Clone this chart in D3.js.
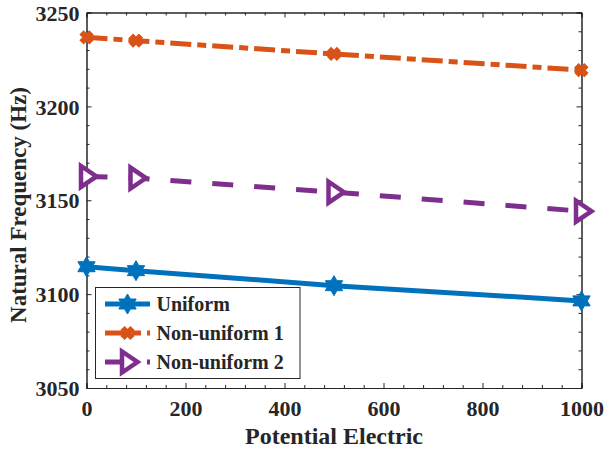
<!DOCTYPE html>
<html><head><meta charset="utf-8">
<script src="https://cdn.jsdelivr.net/npm/d3@7"></script>
<style>body{margin:0;background:#fff}svg{display:block}text{font-family:"Liberation Serif","Times New Roman",Times,serif;font-weight:bold;fill:#262626}</style>
</head><body><svg id="c" width="605" height="452"></svg>
<script>
const xValues = [0, 100, 500, 1000];
const uniform = [3114.6, 3112.5, 3104.5, 3096.4];
const nonUniform1 = [3236.8, 3235.0, 3227.9, 3219.3];
const nonUniform2 = [3162.7, 3161.8, 3154.3, 3144.2];
const seriesNames = ["Uniform", "Non-uniform 1", "Non-uniform 2"];
const xTicks = [0, 200, 400, 600, 800, 1000];
const yTicks = [3050, 3100, 3150, 3200, 3250];
const xLabel = "Potential Electric";
const yLabel = "Natural Frequency (Hz)";

const svg = d3.select("#c");
const L = 86.5, R = 581.5, T = 12.5, B = 388;
const x = d3.scaleLinear().domain([0, 1000]).range([L, R]);
const y = d3.scaleLinear().domain([3050, 3250]).range([B, T]);

const series = [
  {name: seriesNames[0], vals: uniform, color: "#0072BD", dash: null, marker: "hex"},
  {name: seriesNames[1], vals: nonUniform1, color: "#D95319", dash: "21,6,9,6", marker: "x"},
  {name: seriesNames[2], vals: nonUniform2, color: "#7E2F8E", dash: "21,21", marker: "tri"}
];

const axCol = "#262626";
const minorX = d3.range(0, 1001, 40).filter(v => v % 200);
const minorY = d3.range(3050, 3251, 10).filter(v => v % 50);
const gx = svg.append("g").attr("transform", `translate(0,${B})`)
  .call(d3.axisBottom(x).tickValues(xTicks).tickSize(-5).tickPadding(12).tickFormat(d3.format("d")));
const gxm = svg.append("g").attr("transform", `translate(0,${B})`)
  .call(d3.axisBottom(x).tickValues(minorX).tickSize(-3).tickFormat(""));
const gxt = svg.append("g").attr("transform", `translate(0,${T})`)
  .call(d3.axisTop(x).tickValues(xTicks).tickSize(-5).tickFormat(""));
const gxtm = svg.append("g").attr("transform", `translate(0,${T})`)
  .call(d3.axisTop(x).tickValues(minorX).tickSize(-3).tickFormat(""));
const gy = svg.append("g").attr("transform", `translate(${L},0)`)
  .call(d3.axisLeft(y).tickValues(yTicks).tickSize(-5).tickPadding(7).tickFormat(d3.format("d")));
const gym = svg.append("g").attr("transform", `translate(${L},0)`)
  .call(d3.axisLeft(y).tickValues(minorY).tickSize(-3).tickFormat(""));
const gyr = svg.append("g").attr("transform", `translate(${R},0)`)
  .call(d3.axisRight(y).tickValues(yTicks).tickSize(-5).tickFormat(""));
const gyrm = svg.append("g").attr("transform", `translate(${R},0)`)
  .call(d3.axisRight(y).tickValues(minorY).tickSize(-3).tickFormat(""));
[gx, gxm, gxt, gxtm, gy, gym, gyr, gyrm].forEach(g => {
  g.attr("font-family", null).attr("font-size", null);
  g.selectAll("path,line").attr("stroke", axCol).attr("stroke-width", 1);
  g.selectAll("text").style("font-size", "22px").attr("fill", axCol);
});
gy.selectAll("text").attr("dy", "0.35em");

function hexPath(r) {
  const pts = [];
  const ri = r * 0.577;
  for (let i = 0; i < 12; i++) {
    const a = -Math.PI / 2 + i * Math.PI / 6;
    const rr = i % 2 === 0 ? r : ri;
    pts.push([rr * Math.cos(a), rr * Math.sin(a)]);
  }
  return "M" + pts.map(p => p.join(",")).join("L") + "Z";
}
function drawMarker(g, s, cx, cy) {
  if (s.marker === "hex") {
    g.append("path").attr("d", hexPath(10)).attr("transform", `translate(${cx},${cy})`)
      .attr("fill", s.color).attr("stroke", s.color).attr("stroke-width", 1);
  } else if (s.marker === "x") {
    const r = 5;
    g.append("path").attr("d", `M${-r},${-r}L${r},${r}M${-r},${r}L${r},${-r}`)
      .attr("transform", `translate(${cx},${cy})`).attr("stroke", s.color).attr("stroke-width", 6)
      .attr("stroke-linecap", "butt").attr("fill", "none");
  } else {
    g.append("path").attr("d", "M-5.5,-10.5L-5.5,10.5L10,0Z").attr("transform", `translate(${cx},${cy})`)
      .attr("stroke", s.color).attr("stroke-width", 4.5).attr("fill", "#fff").attr("stroke-linejoin", "miter");
  }
}

const line = d3.line().x((d, i) => x(xValues[i])).y(d => y(d));
const plot = svg.append("g");
series.forEach(s => {
  plot.append("path").attr("d", line(s.vals)).attr("fill", "none").attr("stroke", s.color)
    .attr("stroke-width", 5).attr("stroke-dasharray", s.dash);
  s.vals.forEach((v, i) => drawMarker(plot, s, x(xValues[i]), y(v)));
});

const lg = svg.append("g");
lg.append("rect").attr("x", 95.5).attr("y", 287.5).attr("width", 204.5).attr("height", 91)
  .attr("fill", "#fff").attr("stroke", "#262626").attr("stroke-width", 1);
const rowY = [304, 333, 362];
series.forEach((s, i) => {
  lg.append("line").attr("x1", 105).attr("x2", 150).attr("y1", rowY[i]).attr("y2", rowY[i])
    .attr("stroke", s.color).attr("stroke-width", 5).attr("stroke-dasharray", s.dash);
  drawMarker(lg, s, 127.5, rowY[i]);
  lg.append("text").attr("x", 156.5).attr("y", rowY[i]).attr("dy", "0.35em")
    .style("font-size", "20px").text(s.name);
});

svg.append("text").attr("x", (L + R) / 2).attr("y", 444).attr("text-anchor", "middle")
  .style("font-size", "24px").text(xLabel);
svg.append("text").attr("transform", `translate(26,205) rotate(-90)`).attr("text-anchor", "middle")
  .style("font-size", "23px").text(yLabel);
</script></body></html>
